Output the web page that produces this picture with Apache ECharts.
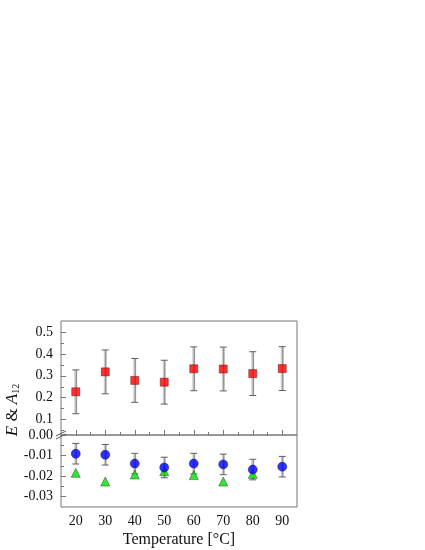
<!DOCTYPE html>
<html>
<head>
<meta charset="utf-8">
<script src="https://cdn.jsdelivr.net/npm/echarts@6/dist/echarts.min.js"></script>
<style>
  html, body { margin: 0; padding: 0; background: #fff; }
  #chart { width: 425px; height: 550px; }
</style>
</head>
<body>
<div id="chart"></div>
<script>
// temperatures (°C)
const temps = [20, 30, 40, 50, 60, 70, 80, 90];
// upper panel: E with error
const eVals = [0.227, 0.318, 0.279, 0.271, 0.332, 0.331, 0.310, 0.333];
const eErr = [0.1, 0.1, 0.1, 0.1, 0.1, 0.1, 0.1, 0.1];
// lower panel: A12 (blue) with error, and second set (green triangles)
const a12Vals = [-0.0091, -0.0096, -0.0139, -0.0158, -0.0139, -0.0143, -0.0168, -0.0154];
const a12Err = [0.005, 0.005, 0.005, 0.005, 0.005, 0.005, 0.005, 0.005];
const triVals = [-0.0184, -0.0226, -0.0192, -0.0176, -0.0195, -0.0226, -0.0189, null];

// tick labels
const xTicks = [20, 30, 40, 50, 60, 70, 80, 90];
const xMinor = [25, 35, 45, 55, 65, 75, 85];
const yUpTicks = [0.1, 0.2, 0.3, 0.4, 0.5];
const yUpMinor = [0.05, 0.15, 0.25, 0.35, 0.45];
const yLoTicks = [0, -0.01, -0.02, -0.03];
const yLoMinor = [-0.005, -0.015, -0.025];

const font = '"Liberation Serif", "DejaVu Serif", serif';
const axisColor = '#777';

const chart = echarts.init(document.getElementById('chart'));

function errorSeries(xIdx, yIdx, vals, errs) {
  return {
    type: 'custom',
    xAxisIndex: xIdx,
    yAxisIndex: yIdx,
    z: 1,
    silent: true,
    data: temps.map((t, i) => [t, vals[i] - errs[i], vals[i] + errs[i]]),
    renderItem: function (params, api) {
      const x = api.value(0);
      const top = api.coord([x, api.value(2)]);
      const bot = api.coord([x, api.value(1)]);
      const half = 3.5;
      const dark = { stroke: '#606060', lineWidth: 1 };
      return {
        type: 'group',
        children: [
          { type: 'line', shape: { x1: top[0], y1: top[1], x2: bot[0], y2: bot[1] },
            style: { stroke: '#cfcfcf', lineWidth: 3 } },
          { type: 'line', shape: { x1: top[0] + 0.5, y1: top[1], x2: bot[0] + 0.5, y2: bot[1] },
            style: { stroke: '#707070', lineWidth: 0.8 } },
          { type: 'line', shape: { x1: top[0] - half, y1: top[1], x2: top[0] + half, y2: top[1] },
            style: dark },
          { type: 'line', shape: { x1: bot[0] - half, y1: bot[1], x2: bot[0] + half, y2: bot[1] },
            style: dark }
        ]
      };
    }
  };
}

function tickAxis(base, values, len, labels) {
  return Object.assign({
    type: 'value',
    splitLine: { show: false },
    axisLine: { show: false },
    axisTick: { show: true, inside: true, length: len, customValues: values,
      lineStyle: { color: axisColor, width: 1 } },
    axisLabel: labels ? Object.assign({ show: true, customValues: values,
      color: '#111', fontFamily: font, fontSize: 14 }, labels) : { show: false }
  }, base);
}

const options = {
  animation: false,
  backgroundColor: '#fff',
  grid: [
    { left: 61, top: 321, width: 236, height: 114, show: true,
      borderColor: axisColor, borderWidth: 1, backgroundColor: 'transparent' },
    { left: 61, top: 435, width: 236, height: 72, show: true,
      borderColor: axisColor, borderWidth: 1, backgroundColor: 'transparent' }
  ],
  xAxis: [
    { type: 'value', gridIndex: 0, min: 15, max: 95, show: false },
    tickAxis({ gridIndex: 1, min: 15, max: 95, position: 'bottom',
      name: 'Temperature [°C]', nameLocation: 'middle', nameGap: 25,
      nameTextStyle: { fontFamily: font, fontSize: 16, color: '#111' } },
      xTicks, 5, { margin: 7 }),
    tickAxis({ gridIndex: 1, min: 15, max: 95, position: 'bottom' }, xMinor, 3, null)
  ],
  yAxis: [
    tickAxis({ gridIndex: 0, min: 0.03, max: 0.55, position: 'left' }, yUpTicks, 5,
      { margin: 8, formatter: v => v.toFixed(1) }),
    tickAxis({ gridIndex: 0, min: 0.03, max: 0.55, position: 'left' }, yUpMinor, 3, null),
    tickAxis({ gridIndex: 1, min: -0.035, max: 0, position: 'left' }, yLoTicks, 5,
      { margin: 8, formatter: v => v.toFixed(2) }),
    tickAxis({ gridIndex: 1, min: -0.035, max: 0, position: 'left' }, yLoMinor, 3, null)
  ],
  series: [
    errorSeries(0, 0, eVals, eErr),
    errorSeries(1, 2, a12Vals, a12Err),
    {
      name: 'E', type: 'scatter', xAxisIndex: 0, yAxisIndex: 0, z: 3,
      symbol: 'rect', symbolSize: 8,
      itemStyle: { color: '#ff0000', borderColor: '#551111', borderWidth: 0.6 },
      data: temps.map((t, i) => [t, eVals[i]])
    },
    {
      name: 'A12', type: 'scatter', xAxisIndex: 1, yAxisIndex: 2, z: 3,
      symbol: 'circle', symbolSize: 9,
      itemStyle: { color: '#0000ff', borderColor: '#111155', borderWidth: 0.6 },
      data: temps.map((t, i) => [t, a12Vals[i]])
    },
    {
      name: 'A21', type: 'scatter', xAxisIndex: 1, yAxisIndex: 2, z: 2,
      symbol: 'triangle', symbolSize: 9,
      itemStyle: { color: '#00e000', borderColor: '#224422', borderWidth: 0.6 },
      data: temps.map((t, i) => [t, triVals[i]]).filter(d => d[1] !== null)
    }
  ],
  graphic: [
    {
      type: 'text', x: 13, y: 410, rotation: Math.PI / 2,
      style: {
        text: '{i|E} & {i|A}{s|12}',
        fontFamily: font, fontSize: 17, fill: '#111',
        align: 'center', verticalAlign: 'middle',
        rich: {
          i: { fontFamily: font, fontSize: 17, fontStyle: 'italic', fill: '#111' },
          s: { fontFamily: font, fontSize: 10, fill: '#111', padding: [7, 0, 0, 0] }
        }
      }
    },
    // axis break marks on the left axis
    { type: 'polyline', shape: { points: [[56, 436], [66, 431]] },
      style: { stroke: '#555', lineWidth: 1 }, z: 10 },
    { type: 'polyline', shape: { points: [[56, 439], [66, 434]] },
      style: { stroke: '#555', lineWidth: 1 }, z: 10 }
  ]
};

chart.setOption(options);
</script>
</body>
</html>
